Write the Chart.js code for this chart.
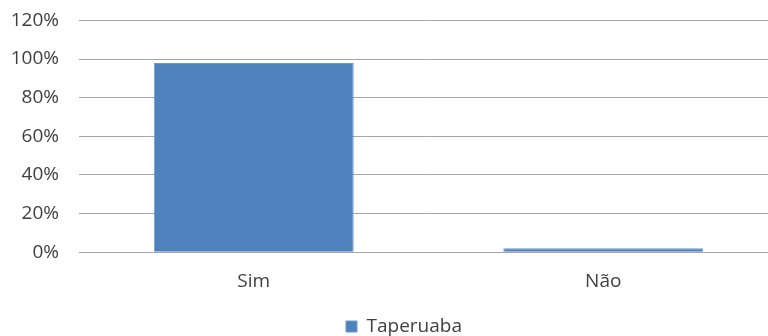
<!DOCTYPE html>
<html>
<head>
<meta charset="utf-8">
<script src="https://cdn.jsdelivr.net/npm/chart.js@4"></script>
<style>
  html, body { margin: 0; padding: 0; background: #fff; overflow: hidden; }
  #wrap { width: 768px; height: 336px; overflow: hidden; }
  #answer_chart { display: block; margin-top: -11px; }
</style>
</head>
<body>
<div id="wrap"><canvas id="answer_chart" width="778" height="357"></canvas></div>
<script>
var categories = ["Sim", "Não"];
var taperuaba = [98, 2];
var seriesName = "Taperuaba";

var ctx = document.getElementById("answer_chart");

var dataFirst = {
    label: seriesName,
    data: taperuaba,
    backgroundColor: '#4F81BD',
    borderColor: '#6E98CC',
    borderWidth: 1,
    categoryPercentage: 0.572,
    barPercentage: 1
};

// nudge the legend a bit right, like the original
var legendShift = {
    id: 'legendShift',
    afterLayout: function (chart) {
        if (chart.legend) {
            chart.legend.left += 30;
        }
    }
};

var chartOptions = {
    responsive: false,
    animation: false,
    layout: { padding: 0 },
    plugins: {
        tooltip: { enabled: false },
        legend: {
            display: true,
            position: 'bottom',
            labels: {
                boxWidth: 11,
                boxHeight: 11,
                padding: 6,
                color: '#404040',
                font: { family: "'Open Sans', sans-serif", size: 19 }
            }
        }
    },
    scales: {
        x: {
            grid: { display: false, drawTicks: false },
            border: { display: true, color: '#A6A6A6', width: 1 },
            ticks: {
                padding: 18,
                color: '#404040',
                font: { family: "'Open Sans', sans-serif", size: 19 }
            }
        },
        y: {
            min: 0,
            max: 120,
            afterFit: function (scale) { scale.width = 79; },
            grid: { color: '#A6A6A6', drawTicks: false },
            border: { display: false },
            ticks: {
                stepSize: 20,
                padding: 20,
                color: '#404040',
                font: { family: "'Open Sans', sans-serif", size: 19 },
                callback: function (v) { return v + '%'; }
            }
        }
    }
};

new Chart(ctx, {
    type: 'bar',
    data: { labels: categories, datasets: [dataFirst] },
    options: chartOptions,
    plugins: [legendShift]
});
</script>
</body>
</html>
